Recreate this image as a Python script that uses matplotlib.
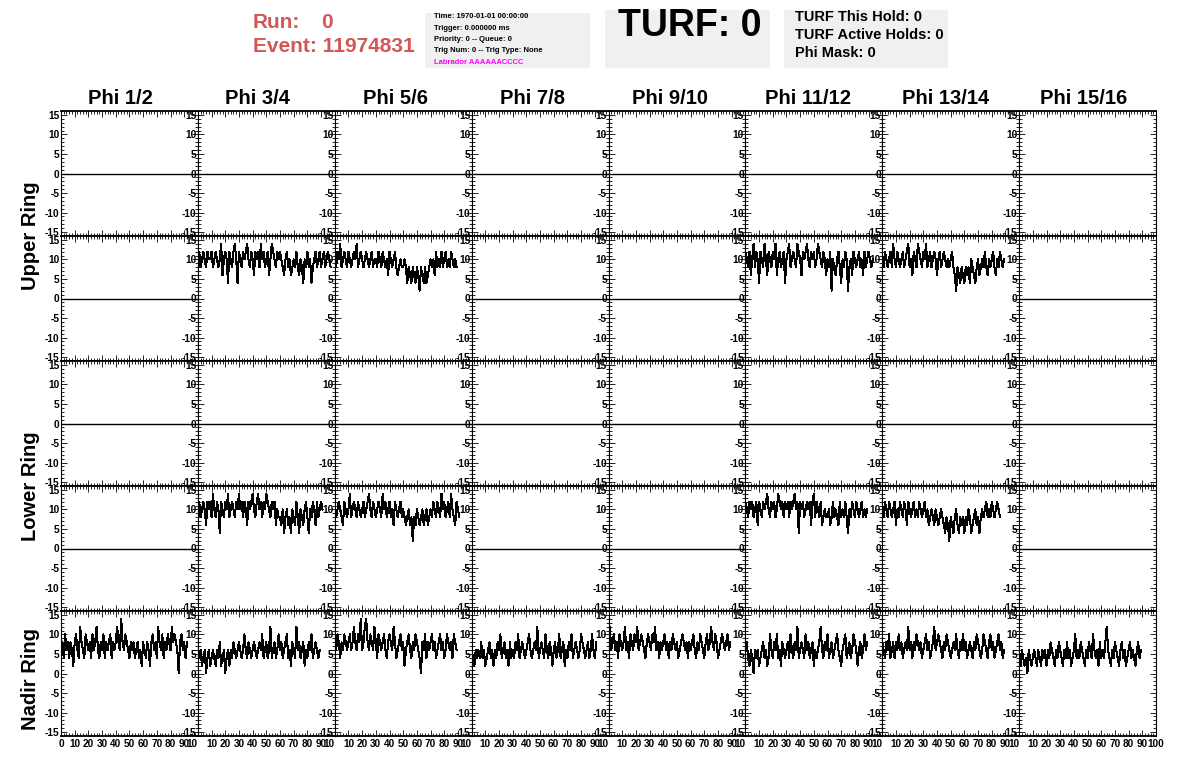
import numpy as np
import matplotlib
matplotlib.use("Agg")
import matplotlib.pyplot as plt
from matplotlib.ticker import MultipleLocator
from matplotlib.patches import Rectangle

plt.rcParams['font.family'] = ['Liberation Sans', 'DejaVu Sans']
plt.rcParams['font.weight'] = 'bold'
plt.rcParams['axes.unicode_minus'] = False

# ---------------- data ----------------
col_labels = ["Phi 1/2", "Phi 3/4", "Phi 5/6", "Phi 7/8", "Phi 9/10",
              "Phi 11/12", "Phi 13/14", "Phi 15/16"]
ring_labels = ["Upper Ring", "Lower Ring", "Nadir Ring"]
y_ticks = [-15, -10, -5, 0, 5, 10, 15]
x_ticks = [0, 10, 20, 30, 40, 50, 60, 70, 80, 90, 100]
baseline = 0
sample_dt = 1.0  # ns per sample

upper2_34 = [10,12,8,10,12,10,8,12,10,10,12,8,10,12,10,8,10,14,6,10,12,10,4,12,10,8,12,14,10,4,
             12,10,8,12,10,12,14,10,8,12,10,6,12,10,12,8,14,10,12,8,10,12,6,10,14,12,10,8,12,10,
             12,10,8,6,10,12,8,10,6,8,10,8,12,8,6,10,8,4,10,8,12,8,10,4,8,10,12,8,10,12,8,10,12,8,10,12,10,8]
upper2_56 = [10,8,12,10,14,8,10,12,10,8,12,10,8,10,12,10,14,8,10,12,10,8,10,12,10,8,10,12,8,10,
             10,8,12,10,8,12,10,8,10,6,12,10,8,10,12,8,6,8,10,8,8,10,8,4,8,6,4,8,6,4,
             8,6,2,8,6,4,8,4,6,8,10,8,10,6,12,8,10,8,12,8,10,12,8,10,8,12,10,8,10,8]
upper2_1112 = [12,10,8,12,6,10,14,8,12,10,4,12,10,8,14,10,6,12,10,8,12,10,14,6,10,12,8,10,12,4,
               10,12,14,8,10,12,10,8,14,12,10,6,12,10,12,14,10,8,12,10,12,8,10,14,12,10,8,12,10,6,
               10,8,12,2,10,8,6,10,12,8,4,10,8,12,10,2,8,10,6,12,10,8,10,12,8,10,6,12,8,10,12,10,8,10]
upper2_1314 = [10,8,12,10,8,10,12,8,14,10,8,12,10,8,10,12,8,10,12,14,8,10,6,12,10,8,14,12,10,8,
               12,10,14,8,10,12,8,10,12,10,6,10,12,8,10,12,10,8,10,8,10,12,8,6,2,8,6,4,8,6,
               4,8,6,8,4,10,8,6,4,8,10,6,8,10,8,12,8,6,10,8,10,12,8,6,10,8,12,10,8,10]

lower2_34 = [10,12,8,10,12,10,6,12,10,12,8,14,10,8,12,10,4,12,10,8,12,10,14,8,10,12,10,8,12,10,
             14,10,12,8,12,10,6,12,10,12,14,10,8,12,14,10,12,8,12,10,14,12,10,8,12,10,12,6,10,8,
             8,6,10,4,8,10,6,8,4,10,8,6,12,8,4,10,8,6,10,12,8,4,10,8,12,10,6,12,8,10,12,10]
lower2_56 = [10,8,10,12,10,8,6,12,10,8,10,14,8,10,12,10,8,12,10,8,10,12,8,10,12,14,10,8,12,10,
             8,10,12,10,8,14,10,12,8,10,12,8,10,6,12,10,8,10,12,8,10,8,6,8,10,6,8,2,8,6,
             10,8,6,8,10,6,8,10,6,8,10,8,12,10,8,12,10,8,14,10,12,8,10,12,8,14,10,8,6,12,10,8]
lower2_1112 = [12,10,8,12,10,12,8,10,12,6,12,10,8,12,10,12,14,10,8,12,10,12,8,10,14,12,10,12,8,12,
               10,12,8,12,10,12,14,10,12,4,12,10,12,8,10,12,10,12,6,12,14,8,12,10,8,12,6,8,10,8,
               8,10,6,8,12,8,10,8,6,12,8,10,8,12,8,4,10,8,12,10,8,12,10,8,10,12,8,10,8,10]
lower2_1314 = [10,8,12,10,8,12,10,8,10,12,6,10,8,12,10,8,12,10,6,12,10,8,10,12,8,10,8,12,10,8,
               10,12,8,10,6,8,10,8,6,10,8,6,8,10,8,6,4,8,6,2,8,6,4,8,10,6,4,8,6,8,
               4,8,6,10,8,4,6,8,10,6,8,4,8,10,8,10,12,8,10,8,12,10,8,10,12,10,8]

nadir_12 = [6,8,4,10,6,8,4,8,6,2,8,10,6,4,12,8,6,4,10,8,6,8,4,10,6,8,12,6,4,8,
            6,10,4,8,6,8,10,4,8,6,8,12,8,6,14,8,6,10,8,6,4,8,6,8,4,6,8,4,6,2,
            8,6,4,8,6,2,8,10,6,8,4,12,8,6,10,4,8,6,10,8,6,12,8,10,8,6,0,8,10,6,8,4,8]
nadir_34 = [6,4,6,2,4,6,0,4,6,2,4,6,4,2,6,4,8,2,4,6,0,4,6,2,6,4,8,6,4,6,
            8,6,4,6,10,6,4,8,6,4,6,8,6,4,6,8,6,10,4,6,8,4,6,12,4,6,8,4,6,10,
            6,8,4,6,8,10,4,6,2,8,6,4,12,6,8,4,6,8,2,6,4,8,6,10,4,6,8,6,4,6]
nadir_56 = [8,6,10,8,4,8,6,10,8,6,8,10,6,8,12,8,6,10,8,14,6,8,12,14,8,6,10,8,6,12,
            8,4,10,8,6,8,10,6,4,8,10,8,6,12,8,4,6,8,10,6,8,2,6,8,10,6,4,8,6,10,
            8,6,4,0,8,6,10,4,8,6,8,10,6,8,4,6,8,10,6,8,4,6,10,8,6,8,4,10,8,6]
nadir_78 = [6,4,2,6,4,6,4,8,4,6,2,4,6,8,4,6,2,6,4,8,6,10,4,6,8,4,6,2,8,4,
            6,4,8,6,10,4,6,8,6,4,6,8,10,6,4,6,8,6,12,4,6,8,6,4,10,6,4,8,6,2,
            6,8,4,6,10,4,6,8,2,6,4,8,6,10,4,6,8,6,4,6,10,8,6,4,6,8,4,6,10,6,4,8]
nadir_910 = [8,12,6,8,10,6,8,4,10,8,6,8,12,6,8,4,10,8,6,10,8,12,6,8,10,8,6,4,8,10,
             8,6,10,8,12,6,8,4,8,6,8,10,6,8,4,8,6,10,8,6,8,4,6,8,10,8,6,8,4,8,
             6,8,10,6,4,8,6,10,8,6,4,8,10,6,8,12,8,6,10,8,4,6,8,10,8,6,8,10,6,8]
nadir_1112 = [6,8,4,2,6,4,0,6,4,6,2,4,6,8,4,6,2,4,10,6,4,8,6,10,4,6,2,8,6,4,
              6,8,4,10,6,4,8,6,12,4,6,8,6,4,10,6,8,4,6,8,2,6,4,6,8,12,6,4,8,6,
              10,4,6,8,4,6,8,10,6,4,2,6,8,10,4,6,8,4,6,10,8,6,2,6,8,4,6,10,6,8]
nadir_1314 = [8,6,4,8,6,10,4,6,8,4,8,6,10,6,8,4,6,8,6,12,6,8,4,8,6,10,8,6,8,4,
              6,8,10,6,8,4,6,8,12,6,8,10,8,6,4,8,6,10,8,6,4,6,8,6,10,6,4,8,6,10,
              6,8,4,6,8,6,4,8,6,10,8,6,4,6,10,8,6,4,8,10,6,8,4,6,8,10,6,8,4,6]
nadir_1516 = [4,2,6,4,2,4,0,6,4,2,4,6,4,2,6,4,2,6,4,6,2,6,4,8,6,4,2,6,4,8,
              6,4,2,6,4,8,4,6,2,4,6,10,4,6,4,8,6,4,2,6,4,8,6,4,10,6,4,6,2,8,
              4,6,4,8,12,6,4,2,6,4,8,6,4,2,6,8,4,6,2,4,6,8,4,6,4,2,6,8,4,6]

# (row, col) -> trace
traces = {
    (1, 1): upper2_34, (1, 2): upper2_56, (1, 5): upper2_1112, (1, 6): upper2_1314,
    (3, 1): lower2_34, (3, 2): lower2_56, (3, 5): lower2_1112, (3, 6): lower2_1314,
    (4, 0): nadir_12, (4, 1): nadir_34, (4, 2): nadir_56, (4, 3): nadir_78,
    (4, 4): nadir_910, (4, 5): nadir_1112, (4, 6): nadir_1314, (4, 7): nadir_1516,
}

run_text = "0"
event_text = "11974831"
info_lines = ["Time: 1970-01-01 00:00:00", "Trigger: 0.000000 ms",
              "Priority: 0 -- Queue: 0", "Trig Num: 0 -- Trig Type: None"]
lab_line = "Labrador AAAAAACCCC"
turf_main = "TURF: 0"
turf_lines = ["TURF This Hold: 0", "TURF Active Holds: 0", "Phi Mask: 0"]

# ---------------- layout ----------------
W, H = 1196, 772
fig = plt.figure(figsize=(W / 100, H / 100), dpi=100)
fig.patch.set_facecolor('white')

def fx(px):
    return px / W

def fy(py):
    return 1 - py / H

RED = '#d35757'
GREY = '#f0f0f0'

left0, top0 = 61.0, 111.0
cw, rh = 1095.0 / 8, 125.0
nrows, ncols = 5, 8

for r in range(nrows):
    for c in range(ncols):
        ax = fig.add_axes([fx(left0 + c * cw), fy(top0 + (r + 1) * rh), cw / W, rh / H])
        ax.set_xlim(0, 100)
        ax.set_ylim(-16, 16)
        ax.set_yticks(y_ticks)
        ax.yaxis.set_minor_locator(MultipleLocator(1))
        ax.set_xticks(x_ticks)
        ax.xaxis.set_minor_locator(MultipleLocator(2))
        ax.tick_params(axis='both', which='both', direction='in', top=True, right=True,
                       width=0.6, colors='black')
        ax.tick_params(axis='both', which='major', length=4)
        ax.tick_params(axis='both', which='minor', length=2)
        ax.tick_params(axis='y', labelsize=7.3, pad=1)
        ax.tick_params(axis='x', labelsize=7.2, pad=2)
        for s in ['left', 'right']:
            ax.spines[s].set_linewidth(0.8)
        for s in ['top', 'bottom']:
            ax.spines[s].set_linewidth(1.3)
        if r == nrows - 1:
            labs = [str(v) for v in x_ticks]
            if c > 0:
                labs[0] = ''
            if c < ncols - 1:
                labs[-1] = '10'
            ax.set_xticklabels(labs)
            if c < ncols - 1:
                ax.get_xticklabels()[-1].set_horizontalalignment('right')
        else:
            ax.set_xticklabels([])
        if (r, c) in traces:
            vals = traces[(r, c)]
            ax.plot(np.arange(len(vals)) * sample_dt, vals, color='black', lw=0.75,
                    antialiased=False)
        else:
            ax.axhline(baseline, color='black', lw=1.0)

# column headers
for i, lab in enumerate(col_labels):
    fig.text(fx(120 + 137.6 * i), fy(98), lab, ha='center', va='center', fontsize=14.5)

# ring labels
ring_y = [236, 486, 679]
for lab, yy in zip(ring_labels, ring_y):
    fig.text(fx(30), fy(yy), lab, ha='center', va='center', rotation=90, fontsize=14.5)

# run / event
fig.text(fx(253), fy(22), "Run:", color=RED, fontsize=15, ha='left', va='center')
fig.text(fx(321), fy(22), run_text, color=RED, fontsize=15, ha='left', va='center')
fig.text(fx(253), fy(46), "Event: " + event_text, color=RED, fontsize=15, ha='left', va='center')

# grey boxes
for (x0, y0, x1, y1) in [(425, 13, 590, 68), (605, 10, 770, 68), (784, 10, 948, 68)]:
    fig.patches.append(Rectangle((fx(x0), fy(y1)), (x1 - x0) / W, (y1 - y0) / H,
                                 transform=fig.transFigure, facecolor=GREY,
                                 edgecolor='none', zorder=0))

for i, t in enumerate(info_lines):
    fig.text(fx(434), fy(17 + 11.3 * i), t, fontsize=5.5, ha='left', va='center')
fig.text(fx(434), fy(62), lab_line, fontsize=5.5, ha='left', va='center', color='#ff00ff')

fig.text(fx(690), fy(26), turf_main, fontsize=27, ha='center', va='center')

for i, t in enumerate(turf_lines):
    fig.text(fx(795), fy(17 + 18.2 * i), t, fontsize=10.5, ha='left', va='center')

fig.savefig("out.png", dpi=100)
